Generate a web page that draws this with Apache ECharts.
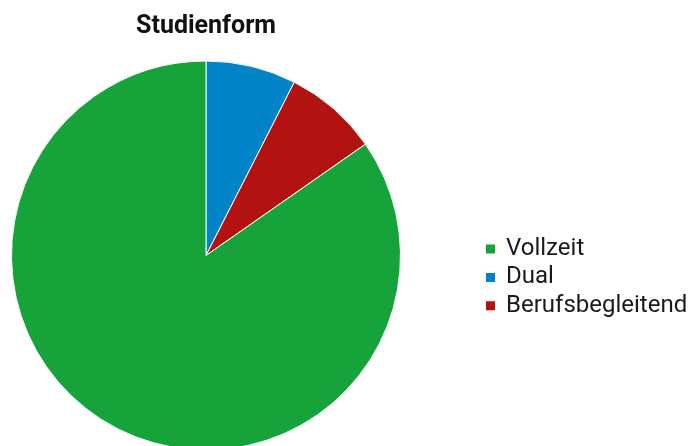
<!DOCTYPE html>
<html>
<head>
<meta charset="utf-8">
<script src="https://cdn.jsdelivr.net/npm/echarts@6/dist/echarts.min.js"></script>
<style>
    html, body { margin: 0; padding: 0; background: #fff; }
    #main { width: 696px; height: 446px; }
</style>
</head>
<body>
<div id="main"></div>
<script>
    // Reihenfolge im Kreis (im Uhrzeigersinn ab 12 Uhr)
    var categories = ['Dual', 'Berufsbegleitend', 'Vollzeit'];
    var values = [7.5, 7.8, 84.7];
    var colors = ['#0084c7', '#b21210', '#16a33a'];
    // Reihenfolge in der Legende
    var legendOrder = ['Vollzeit', 'Dual', 'Berufsbegleitend'];

    var pieData = [];
    for (var i = 0; i < categories.length; i++) {
        pieData.push({
            name: categories[i],
            value: values[i],
            itemStyle: {color: colors[i]}
        });
    }

    var option = {
        animation: false,
        textStyle: {fontFamily: 'Roboto'},
        title: {
            text: 'Studienform',
            left: 201,
            textAlign: 'center',
            top: 9,
            textStyle: {
                fontFamily: 'Roboto',
                fontWeight: 'bold',
                fontSize: 25,
                color: '#111'
            }
        },
        legend: {
            orient: 'vertical',
            left: 479,
            top: 232,
            itemWidth: 11,
            itemHeight: 11,
            itemGap: 4.4,
            icon: 'rect',
            data: legendOrder,
            textStyle: {
                fontFamily: 'Roboto',
                fontSize: 24,
                lineHeight: 24,
                color: '#1a1a1a',
                padding: [0, 0, 0, 5]
            }
        },
        series: [{
            type: 'pie',
            center: [206, 255.5],
            radius: 194.5,
            startAngle: 90,
            clockwise: true,
            label: {show: false},
            labelLine: {show: false},
            emphasis: {disabled: true},
            itemStyle: {borderColor: '#fff', borderWidth: 1},
            data: pieData
        }]
    };

    var myChart = echarts.init(document.getElementById('main'));
    myChart.setOption(option);
</script>
</body>
</html>
